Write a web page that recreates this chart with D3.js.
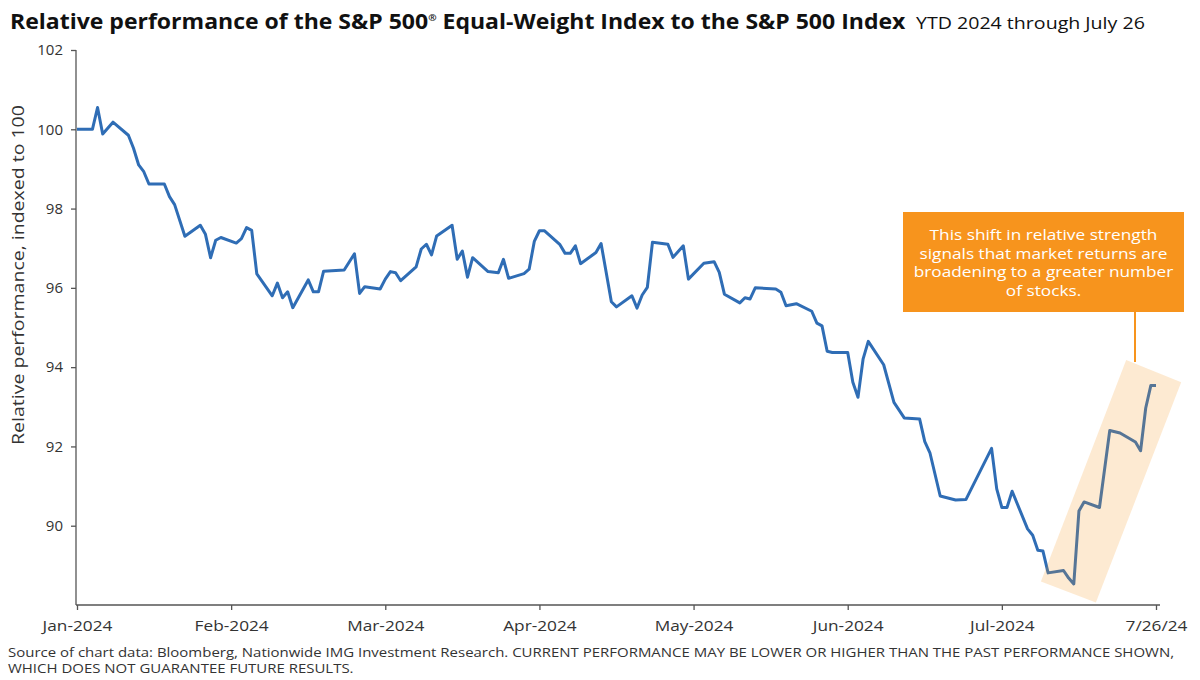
<!DOCTYPE html>
<html>
<head>
<meta charset="utf-8">
<script src="https://cdn.jsdelivr.net/npm/d3@7"></script>
<style>
  html, body { margin: 0; padding: 0; background: #fff; }
  svg { display: block; font-family: "Open Sans", "Lato", sans-serif; }
</style>
</head>
<body>
<svg id="chart" width="1200" height="680"></svg>
<script>
// Day offsets (0 = 2023-12-29, calendar days, weekends carry forward) and index values
const dayIndex = [0,3,4,5,7,10,11,12,13,14,17,18,19,21,24,25,26,27,28,31,32,33,34,35,38,39,40,41,42,45,46,47,48,52,54,55,56,59,60,61,62,63,66,67,68,69,70,73,74,75,76,77,80,82,83,84,87,88,89,90,91,94,95,96,97,98,101,102,104,105,108,109,110,111,112,115,116,118,119,122,124,125,126,129,130,131,132,136,137,138,140,143,144,145,146,147,150,151,152,153,154,157,159,161,164,165,166,168,171,173,178,179,180,181,182,185,186,187,188,189,192,193,194,195,196,199,201,203,206,207,208,209,210];
const relPerf = [100.00,100.00,100.55,99.88,100.18,99.85,99.52,99.10,98.93,98.62,98.62,98.30,98.10,97.30,97.58,97.35,96.76,97.20,97.27,97.13,97.24,97.52,97.45,96.35,95.80,96.12,95.75,95.90,95.50,96.20,95.90,95.90,96.42,96.45,96.86,95.86,96.03,95.97,96.22,96.41,96.38,96.18,96.53,96.98,97.10,96.83,97.31,97.58,96.72,96.93,96.27,96.76,96.41,96.38,96.72,96.24,96.36,96.47,97.17,97.44,97.44,97.09,96.87,96.87,97.06,96.61,96.89,97.12,95.65,95.52,95.80,95.49,95.82,96.01,97.15,97.10,96.77,97.06,96.22,96.62,96.66,96.39,95.84,95.62,95.75,95.72,96.00,95.97,95.89,95.55,95.60,95.41,95.11,95.04,94.40,94.37,94.37,93.62,93.24,94.21,94.65,94.06,93.11,92.72,92.69,92.12,91.84,90.75,90.65,90.66,91.95,90.93,90.46,90.46,90.87,89.92,89.76,89.38,89.36,88.81,88.87,88.68,88.53,90.37,90.60,90.46,92.40,92.34,92.11,91.89,92.97,93.54,93.54];

const xTickDays = [0,30,60,90,120,150,180,210];
const xTickLabels = ["Jan-2024","Feb-2024","Mar-2024","Apr-2024","May-2024","Jun-2024","Jul-2024","7/26/24"];
const yTicks = [90,92,94,96,98,100,102];

// highlight band corners in data units [day, value]
const highlightBand = [[204.2,94.18],[214.9,93.62],[198.3,88.06],[187.6,88.59]];
const calloutLines = ["This shift in relative strength","signals that market returns are","broadening to a greater number","of stocks."];

const titleBold = "Relative performance of the S&P 500";
const titleReg = "Equal-Weight Index to the S&P 500 Index";
const subtitle = "YTD 2024 through July 26";
const yLabel = "Relative performance, indexed to 100";
const footer1 = "Source of chart data: Bloomberg, Nationwide IMG Investment Research. CURRENT PERFORMANCE MAY BE LOWER OR HIGHER THAN THE PAST PERFORMANCE SHOWN,";
const footer2 = "WHICH DOES NOT GUARANTEE FUTURE RESULTS.";

const svg = d3.select("#chart");
const x = d3.scaleLinear().domain([0, 210]).range([77, 1156]);
const y = d3.scaleLinear().domain([88, 102]).range([605, 50]);
const axisColor = "#555";
const textColor = "#333";
const stretch = 1.15;

// horizontally stretch a text (reference typeface is wider than available fonts)
function widen(sel, tx, ty, sx, rot) {
  sel.attr("transform", `translate(${tx},${ty})${rot ? " rotate(" + rot + ")" : ""} scale(${sx},1)`);
}

// title
const t = svg.append("text").attr("fill", "#111");
t.append("tspan").attr("font-weight", 700).attr("font-size", 20.5).text(titleBold);
t.append("tspan").attr("font-weight", 700).attr("font-size", 9).attr("dy", -8).text("®");
t.append("tspan").attr("font-weight", 700).attr("font-size", 20.5).attr("dy", 8).text(" " + titleReg);
const tw = t.node().getComputedTextLength();
widen(t, 10, 29, 896 / tw);

const st = svg.append("text").attr("fill", "#111").attr("font-size", 17).text(subtitle);
const sw = st.node().getComputedTextLength();
widen(st, 916, 29, 229 / sw);

// y axis
const yAxis = svg.append("g").attr("transform", `translate(76,0)`)
  .call(d3.axisLeft(y).tickValues(yTicks).tickSize(5).tickPadding(8).tickFormat(d3.format("d")));
yAxis.select(".domain").attr("d", `M0,${y(102)}V${y(88)}`);
yAxis.selectAll("path, line").attr("stroke", axisColor).attr("stroke-width", 1.3);
yAxis.selectAll("text").attr("font-size", 15).attr("fill", textColor)
  .attr("font-family", "Open Sans, sans-serif");

// x axis
const xAxis = svg.append("g").attr("transform", `translate(0,${y(88)})`)
  .call(d3.axisBottom(x).tickValues(xTickDays).tickSize(5).tickPadding(10)
    .tickFormat((d, i) => xTickLabels[i]));
xAxis.select(".domain").attr("d", `M76,0H1160`);
xAxis.selectAll("path, line").attr("stroke", axisColor).attr("stroke-width", 1.3);
xAxis.selectAll("text").attr("font-size", 15).attr("fill", textColor)
  .attr("font-family", "Open Sans, sans-serif")
  .attr("transform", `scale(${stretch},1)`);

// y label
const yl = svg.append("text")
  .attr("text-anchor", "middle").attr("font-size", 15.5).attr("fill", textColor)
  .text(yLabel);
const yw = yl.node().getComputedTextLength();
widen(yl, 24, 275, 340 / yw, -90);

// line
const data = dayIndex.map((d, i) => ({ d, v: relPerf[i] }));
const line = d3.line().x(p => x(p.d)).y(p => y(p.v));
svg.append("path").datum(data).attr("d", line)
  .attr("fill", "none").attr("stroke", "#2F6DB5").attr("stroke-width", 3)
  .attr("stroke-linejoin", "round");

// highlight band (drawn over line, translucent)
svg.append("path")
  .attr("d", d3.line().x(p => x(p[0])).y(p => y(p[1]))(highlightBand) + "Z")
  .attr("fill", "#F7941D").attr("fill-opacity", 0.2);

// callout
const boxX = 903, boxY = 212, boxW = 281, boxH = 100;
svg.append("line").attr("x1", 1135).attr("x2", 1135).attr("y1", boxY + boxH).attr("y2", 362)
  .attr("stroke", "#F7941D").attr("stroke-width", 2);
svg.append("rect").attr("x", boxX).attr("y", boxY).attr("width", boxW).attr("height", boxH)
  .attr("fill", "#F7941D");
svg.append("g").selectAll("text").data(calloutLines).join("text")
  .attr("text-anchor", "middle").attr("fill", "#fff").attr("font-size", 15).attr("font-weight", 500)
  .text(d => d)
  .each(function (d, i) { widen(d3.select(this), boxX + boxW / 2, 240 + i * 18.7, stretch); });

// footer
const f1 = svg.append("text").attr("font-size", 13).attr("fill", textColor).text(footer1);
const fw = f1.node().getComputedTextLength();
const fs = 1167 / fw;
widen(f1, 8, 657, fs);
const f2 = svg.append("text").attr("font-size", 13).attr("fill", textColor).text(footer2);
widen(f2, 8, 672.5, fs);
</script>
</body>
</html>
